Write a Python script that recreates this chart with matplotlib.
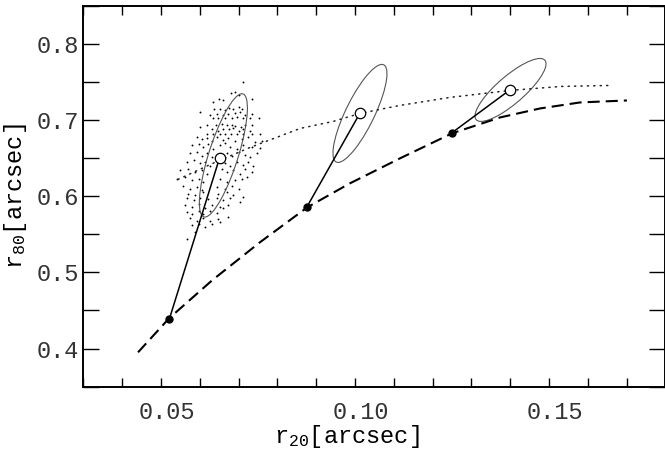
import numpy as np
import matplotlib
matplotlib.use("Agg")
import matplotlib.pyplot as plt
from matplotlib.patches import Ellipse
from matplotlib.transforms import ScaledTranslation

plt.rcParams["font.family"] = ["Liberation Mono", "DejaVu Sans"]
plt.rcParams["mathtext.fontset"] = "custom"
plt.rcParams["mathtext.rm"] = "Liberation Mono"
plt.rcParams["mathtext.it"] = "Liberation Mono"
plt.rcParams["text.color"] = "#333333"
plt.rcParams["xtick.labelcolor"] = "#333333"
plt.rcParams["ytick.labelcolor"] = "#333333"

# model track (dashed) and its sampled points (filled)
track_r20 = [0.0441, 0.0521, 0.0632, 0.0755, 0.0877, 0.0987, 0.1116, 0.1250,
             0.1374, 0.1477, 0.1580, 0.1701]
track_r80 = [0.3951, 0.4397, 0.4896, 0.5394, 0.5853, 0.6168, 0.6496, 0.6824,
             0.7033, 0.7151, 0.7230, 0.7256]

# dotted relation
dot_r20 = [0.0544, 0.0639, 0.0730, 0.0859, 0.0944, 0.1013, 0.1116, 0.1245,
           0.1400, 0.1531, 0.1657]
dot_r80 = [0.622, 0.6443, 0.664, 0.6889, 0.6981, 0.7086, 0.7191, 0.7296,
           0.7388, 0.744, 0.7453]

true_r20 = [0.0522, 0.0876, 0.1249]
true_r80 = [0.4393, 0.5857, 0.6828]
meas_r20 = [0.0651, 0.1013, 0.1400]
meas_r80 = [0.650, 0.709, 0.7397]

# error ellipses: centre, sigma_x, sigma_y, correlation
ell_x = [0.0661, 0.1013, 0.1401]
ell_y = [0.6535, 0.7086, 0.7394]
ell_sx = [0.00619, 0.00696, 0.00915]
ell_sy = [0.0809, 0.0643, 0.0413]
ell_rho = [0.77, 0.81, 0.83]

# simulated measurements around the first point
cloud_r20 = [
    0.0711, 0.0691, 0.0681, 0.0701, 0.0650, 0.0661, 0.0734, 0.0635, 0.0601, 0.0638,
    0.0652, 0.0665, 0.0676, 0.0687, 0.0700, 0.0708, 0.0627, 0.0644, 0.0661, 0.0674,
    0.0691, 0.0704, 0.0717, 0.0734, 0.0754, 0.0635, 0.0648, 0.0665, 0.0682, 0.0695,
    0.0711, 0.0730, 0.0618, 0.0642, 0.0657, 0.0670, 0.0682, 0.0691, 0.0706, 0.0717,
    0.0734, 0.0601, 0.0631, 0.0648, 0.0661, 0.0676, 0.0687, 0.0700, 0.0712, 0.0730,
    0.0618, 0.0635, 0.0652, 0.0665, 0.0681, 0.0695, 0.0712, 0.0734, 0.0755,
    0.0592, 0.0605, 0.0618, 0.0631, 0.0644, 0.0661, 0.0674, 0.0691, 0.0708, 0.0725,
    0.0743, 0.0760, 0.0579, 0.0597, 0.0609, 0.0622, 0.0635, 0.0652, 0.0665, 0.0678,
    0.0695, 0.0712, 0.0734, 0.0755, 0.0575, 0.0592, 0.0605, 0.0618, 0.0631, 0.0670,
    0.0682, 0.0700, 0.0717, 0.0730, 0.0747, 0.0566, 0.0584, 0.0601, 0.0614, 0.0627,
    0.0665, 0.0678, 0.0695, 0.0712, 0.0725, 0.0738, 0.0549, 0.0571, 0.0588, 0.0605,
    0.0618, 0.0657, 0.0670, 0.0687, 0.0704, 0.0717, 0.0734, 0.0541, 0.0562, 0.0579,
    0.0597, 0.0609, 0.0652, 0.0670, 0.0691, 0.0708, 0.0721, 0.0558, 0.0575, 0.0592,
    0.0605, 0.0644, 0.0665, 0.0682, 0.0700, 0.0571, 0.0588, 0.0609, 0.0648, 0.0670,
    0.0687,
    0.0566, 0.0584, 0.0601, 0.0622, 0.0644, 0.0661, 0.0678, 0.0712, 0.0562, 0.0579,
    0.0597, 0.0614, 0.0631, 0.0652, 0.0674, 0.0566, 0.0579, 0.0597, 0.0609, 0.0627,
    0.0644, 0.0661, 0.0575, 0.0592, 0.0609, 0.0627, 0.0648, 0.0674, 0.0579, 0.0597,
    0.0614, 0.0631, 0.0652, 0.0566, 0.0588, 0.0704,
]
cloud_r80 = [
    0.750, 0.737, 0.736, 0.733, 0.727, 0.726, 0.727, 0.723, 0.711, 0.715,
    0.715, 0.713, 0.716, 0.715, 0.717, 0.715, 0.707, 0.708, 0.707, 0.708,
    0.709, 0.710, 0.707, 0.708, 0.702, 0.702, 0.702, 0.702, 0.702, 0.704,
    0.702, 0.702, 0.693, 0.694, 0.695, 0.693, 0.694, 0.692, 0.691, 0.693,
    0.694, 0.691, 0.688, 0.686, 0.688, 0.688, 0.689, 0.686, 0.688, 0.686,
    0.682, 0.681, 0.682, 0.681, 0.682, 0.681, 0.682, 0.681, 0.682,
    0.678, 0.675, 0.676, 0.673, 0.678, 0.674, 0.676, 0.673, 0.675, 0.678,
    0.671, 0.673, 0.667, 0.669, 0.664, 0.668, 0.662, 0.667, 0.670, 0.664,
    0.662, 0.667, 0.664, 0.663, 0.656, 0.658, 0.653, 0.656, 0.651, 0.656,
    0.653, 0.658, 0.654, 0.651, 0.656, 0.645, 0.647, 0.643, 0.645, 0.640,
    0.643, 0.640, 0.645, 0.641, 0.645, 0.640, 0.634, 0.636, 0.632, 0.634,
    0.629, 0.636, 0.632, 0.634, 0.629, 0.636, 0.632, 0.623, 0.625, 0.621,
    0.623, 0.619, 0.623, 0.619, 0.621, 0.623, 0.625, 0.614, 0.610, 0.612,
    0.608, 0.612, 0.610, 0.614, 0.610, 0.603, 0.602, 0.605, 0.603, 0.605,
    0.602,
    0.598, 0.595, 0.597, 0.596, 0.598, 0.595, 0.597, 0.599, 0.588, 0.586,
    0.590, 0.584, 0.588, 0.586, 0.589, 0.579, 0.577, 0.580, 0.577, 0.581,
    0.578, 0.584, 0.571, 0.568, 0.571, 0.567, 0.570, 0.573, 0.562, 0.563,
    0.560, 0.564, 0.566, 0.544, 0.553, 0.592,
]

x_major = [0.05, 0.10, 0.15]
x_labels = ["0.05", "0.10", "0.15"]
y_major = [0.4, 0.5, 0.6, 0.7, 0.8]
y_labels = ["0.4", "0.5", "0.6", "0.7", "0.8"]

fig = plt.figure(figsize=(6.65, 4.53), dpi=100)
ax = fig.add_axes([0.1253, 0.1464, 0.8752, 0.8411])

ax.scatter(cloud_r20, cloud_r80, s=1.8, color="black", linewidths=0, zorder=2)

for cx, cy, sx, sy, rho in zip(ell_x, ell_y, ell_sx, ell_sy, ell_rho):
    cov = np.array([[sx * sx, rho * sx * sy], [rho * sx * sy, sy * sy]])
    vals, vecs = np.linalg.eigh(cov)
    angle = np.degrees(np.arctan2(vecs[1, 1], vecs[0, 1]))
    ax.add_patch(Ellipse((cx, cy), 2 * np.sqrt(vals[1]), 2 * np.sqrt(vals[0]),
                         angle=angle, fill=False, edgecolor="#555555", lw=0.8, zorder=3))

ax.plot(dot_r20, dot_r80, color="#222222", lw=1.1, linestyle=(0, (0.8, 3.4)),
        dash_capstyle="round", zorder=3)
ax.plot(track_r20, track_r80, color="black", lw=1.5, linestyle=(0, (5.8, 2.9)), zorder=3)

for x0, y0, x1, y1 in zip(true_r20, true_r80, meas_r20, meas_r80):
    ax.plot([x0, x1], [y0, y1], color="black", lw=1.1, zorder=4)
ax.plot(true_r20, true_r80, "o", color="black", ms=5, zorder=5)
ax.plot(meas_r20, meas_r80, "o", mfc="white", mec="black", mew=0.9, ms=7.5, zorder=5)

ax.set_xlim(0.03, 0.18)
ax.set_ylim(0.35, 0.85)
ax.set_xticks(x_major, x_labels)
ax.set_xticks(np.arange(0.03, 0.1801, 0.01), minor=True)
ax.set_yticks(y_major, y_labels)
ax.set_yticks(np.arange(0.35, 0.8501, 0.05), minor=True)
ax.tick_params(axis="x", which="both", direction="in", length=6.7, width=1.0,
               top=True, pad=10, labelsize=17)
ax.tick_params(axis="y", which="both", direction="in", length=11.3, width=1.0,
               right=True, pad=3, labelsize=17)
for sp in ax.spines.values():
    sp.set_linewidth(1.4)

shift = ScaledTranslation(6 / 100, 0, fig.dpi_scale_trans)
for lab in ax.get_xticklabels():
    lab.set_transform(lab.get_transform() + shift)

ax.set_xlabel(r"$\mathrm{r}_{20}$[arcsec]", fontsize=17)
ax.set_ylabel(r"$\mathrm{r}_{80}$[arcsec]", fontsize=17)
ax.xaxis.set_label_coords(0.453, -0.132)
ax.xaxis.label.set_va("center")
ax.yaxis.set_label_coords(-0.117, 0.5)
ax.yaxis.label.set_va("center")

fig.savefig("out.png", dpi=100)
